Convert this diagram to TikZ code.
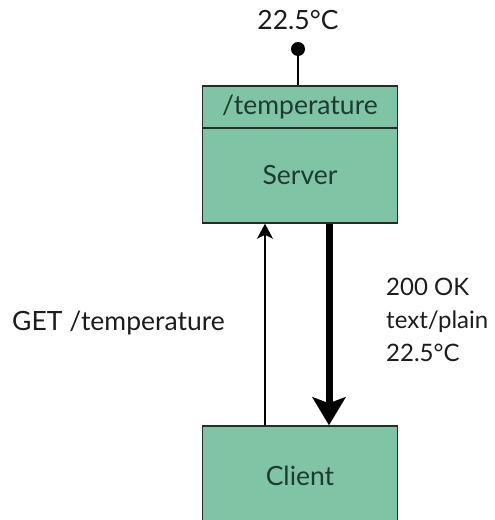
\documentclass[tikz,border=0pt]{standalone}
\usepackage{fontspec}
\setmainfont{Lato}
\usetikzlibrary{arrows.meta}
\definecolor{boxfill}{HTML}{80C4A6}
\definecolor{boxline}{HTML}{2A2A2A}
\definecolor{ink}{HTML}{1C1C1C}
\definecolor{boxink}{HTML}{1E3A31}
\tikzset{
  txt/.style={font=\fontsize{26.5}{33}\selectfont, text=ink, inner sep=0pt},
  box/.style={draw=boxline, line width=1.5pt, fill=boxfill, minimum width=195pt,
              inner sep=0pt, font=\fontsize{26.5}{30}\selectfont, text=boxink},
  request/.style={line width=1.6pt, -{Stealth[length=15pt,width=16pt,inset=4pt]}},
  response/.style={line width=7pt, -{Stealth[length=28pt,width=33pt,inset=6pt]}},
}
\begin{document}
\begin{tikzpicture}[x=1pt,y=-1pt]
  \useasboundingbox (0,0) rectangle (495,520);
  \clip (0,0) rectangle (495,520);

  % server with its resource
  \node[box, minimum height=42pt] (res) at (300,107) {/temperature};
  \node[box, minimum height=95pt] (srv) at (300,175.5) {Server};

  % client (runs off the bottom edge)
  \node[box, minimum height=100pt] (cli) at (300,476) {Client};

  % observable value on the resource
  \coordinate (pin) at (298,49);
  \draw[line width=1.8pt] (pin) -- (pin |- res.north);
  \fill (pin) circle (7);
  \node[txt] (val) at (298,20) {22.5°C};

  % request and response
  \draw[request] ([xshift=-35pt]cli.north) -- ([xshift=-35pt]srv.south);
  \draw[response] ([xshift=29pt]srv.south) -- ([xshift=29pt]cli.north);

  \node[txt, anchor=west] (get) at (12,323) {GET /temperature};
  \node[txt, anchor=west, align=left, font=\fontsize{24}{33}\selectfont]
    (resp) at (386,320) {200 OK\\text/plain\\22.5°C};
\end{tikzpicture}
\end{document}
